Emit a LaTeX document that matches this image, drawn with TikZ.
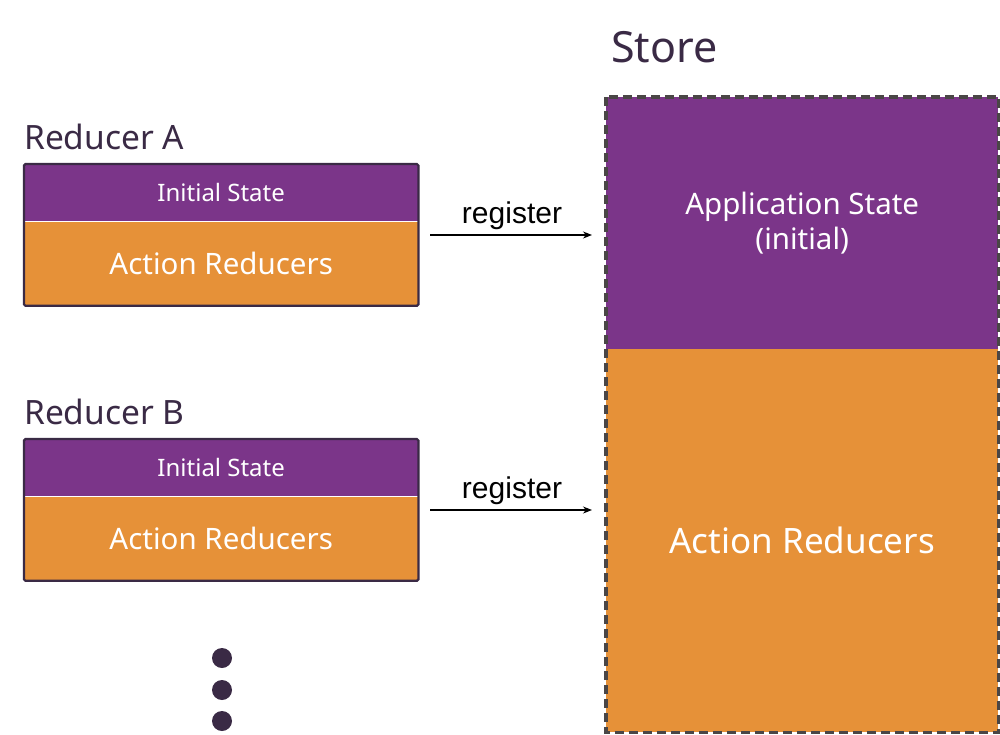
\documentclass[tikz,border=0pt]{standalone}
\usepackage{fontspec}
\setmainfont{Noto Sans}
\newfontfamily\arialfont{Liberation Sans}
\usetikzlibrary{arrows.meta,positioning}
\definecolor{rpurple}{HTML}{7B3589}
\definecolor{rorange}{HTML}{E69138}
\definecolor{darktxt}{HTML}{3A2A45}
\definecolor{dashgray}{HTML}{4A4646}
\tikzset{
  part/.style={draw=none, minimum width=394pt, inner sep=0pt, text=white},
  initpart/.style={part, fill=rpurple, minimum height=57pt, font=\fontsize{24}{27}\selectfont},
  actpart/.style={part, fill=rorange, minimum height=84pt, font=\fontsize{29.5}{32}\selectfont},
  title/.style={anchor=base west, inner sep=0pt, text=darktxt},
  regarrow/.style={-{Stealth[length=9pt,width=7pt]}, line width=1.2pt, black, shorten <=12pt, shorten >=14pt},
  reglabel/.style={font=\arialfont\fontsize{30}{32}\selectfont, inner sep=0pt, anchor=base},
  dot/.style={circle, fill=darktxt, minimum size=20pt, inner sep=0pt},
}
\begin{document}
\begin{tikzpicture}[x=1pt,y=-1pt]
\useasboundingbox (0,0) rectangle (1000,734);
% Store
\node[title, font=\fontsize{43}{46}\selectfont] (storet) at (611,62) {Store};
\node[fill=rpurple, minimum width=392pt, minimum height=252pt, inner sep=0pt, anchor=north west, text=white,
      font=\fontsize{29.5}{35}\selectfont, align=center] (sapp) at (606,97) {Application State\\(initial)};
\node[fill=rorange, minimum width=392pt, minimum height=383pt, inner sep=0pt, anchor=north west, text=white,
      font=\fontsize{35}{38}\selectfont] (sact) at (606,349) {Action Reducers};
\draw[dashgray, line width=3.5pt, dash pattern=on 9pt off 5pt] (sapp.north west) rectangle (sact.south east);
% Reducer A
\node[title, font=\fontsize{33.5}{36}\selectfont] (rAt) at (24,149) {Reducer A};
\node[initpart, anchor=north west] (rAi) at (24,164) {Initial State};
\node[actpart, anchor=north] (rAa) at (rAi.south) {Action Reducers};
\draw[darktxt, line width=2.2pt, rounded corners=1.5pt] (rAi.north west) rectangle (rAa.south east);
% Reducer B
\node[title, font=\fontsize{33.5}{36}\selectfont] (rBt) at (24,424) {Reducer B};
\node[initpart, anchor=north west] (rBi) at (24,439) {Initial State};
\node[actpart, anchor=north] (rBa) at (rBi.south) {Action Reducers};
\draw[darktxt, line width=2.2pt, rounded corners=1.5pt] (rBi.north west) rectangle (rBa.south east);
% arrows
\coordinate (rAe) at (418,235);
\coordinate (sA) at (606,235);
\coordinate (rBe) at (418,510);
\coordinate (sB) at (606,510);
\draw[regarrow] (rAe) -- (sA);
\draw[regarrow] (rBe) -- (sB);
\node[reglabel] (lA) at (512,223) {register};
\node[reglabel] (lB) at (512,498) {register};
% dots
\node[dot] (d1) at (222,658) {};
\node[dot] (d2) at (222,690) {};
\node[dot] (d3) at (222,721) {};
\end{tikzpicture}
\end{document}
